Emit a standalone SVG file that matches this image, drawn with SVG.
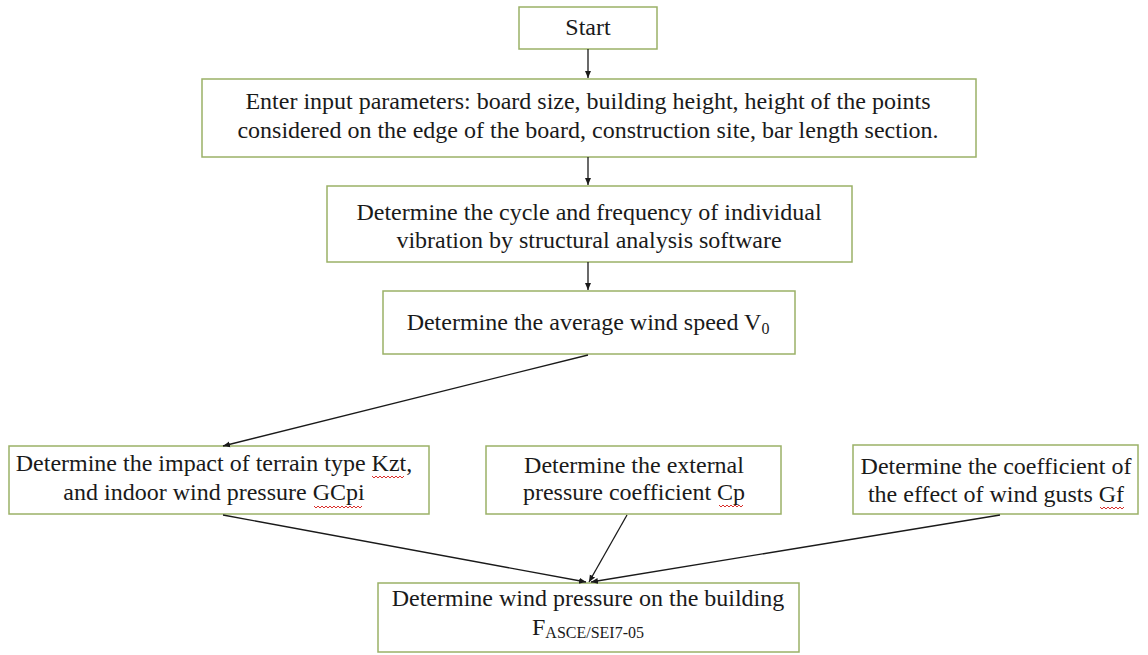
<svg xmlns="http://www.w3.org/2000/svg" width="1148" height="655" viewBox="0 0 1148 655">
<style>
.box{fill:#fff;stroke:#9bb167;stroke-width:1.5}
.t{font-family:"Liberation Serif","Times New Roman",serif;font-size:24px;fill:#1a1a1a;text-anchor:middle}
.c{stroke:#1a1a1a;stroke-width:1.3;fill:none}
.sq{stroke:#d9302c;stroke-width:1;fill:none}
</style>
<defs>
<marker id="ah" markerWidth="8" markerHeight="8" refX="7" refY="4" orient="auto" markerUnits="userSpaceOnUse">
<path d="M0,1 L7,4 L0,7 Z" fill="#1a1a1a"/>
</marker>
</defs>
<rect width="1148" height="655" fill="#fff"/>
<g id="start"><rect class="box" x="519" y="7" width="138" height="42"/><text class="t" x="588" y="35">Start</text></g>
<g id="input"><rect class="box" x="202" y="79" width="774" height="78"/>
<text class="t" x="588" y="109">Enter input parameters: board size, building height, height of the points</text>
<text class="t" x="588" y="138">considered on the edge of the board, construction site, bar length section.</text></g>
<g id="cycle"><rect class="box" x="327" y="186" width="525" height="76"/>
<text class="t" x="589" y="220">Determine the cycle and frequency of individual</text>
<text class="t" x="589" y="248">vibration by structural analysis software</text></g>
<g id="avg"><rect class="box" x="383" y="291" width="412" height="63"/>
<text class="t" x="588" y="330">Determine the average wind speed V<tspan font-size="16" dy="4">0</tspan></text></g>
<g id="terrain"><rect class="box" x="9" y="446" width="420" height="68"/>
<text class="t" x="214" y="471">Determine the impact of terrain type Kzt,</text>
<text class="t" x="214" y="500">and indoor wind pressure GCpi</text>
<path class="sq" d="M372,476 l2,2 l2,-2 l2,2 l2,-2 l2,2 l2,-2 l2,2 l2,-2 l2,2 l2,-2 l2,2 l2,-2 l2,2 l2,-2 l2,2 l2,-2"/>
<path class="sq" d="M314,506 l2,2 l2,-2 l2,2 l2,-2 l2,2 l2,-2 l2,2 l2,-2 l2,2 l2,-2 l2,2 l2,-2 l2,2 l2,-2 l2,2 l2,-2 l2,2 l2,-2 l2,2 l2,-2 l2,2 l2,-2 l2,2 l2,-2"/></g>
<g id="external"><rect class="box" x="486" y="446" width="295" height="68"/>
<text class="t" x="634" y="473">Determine the external</text>
<text class="t" x="634" y="500">pressure coefficient Cp</text>
<path class="sq" d="M719,505 l2,2 l2,-2 l2,2 l2,-2 l2,2 l2,-2 l2,2 l2,-2 l2,2 l2,-2 l2,2 l2,-2"/></g>
<g id="gust"><rect class="box" x="853" y="445" width="285" height="69"/>
<text class="t" x="996" y="474">Determine the coefficient of</text>
<text class="t" x="996" y="502">the effect of wind gusts Gf</text>
<path class="sq" d="M1100,507 l2,2 l2,-2 l2,2 l2,-2 l2,2 l2,-2 l2,2 l2,-2 l2,2 l2,-2 l2,2 l2,-2"/></g>
<g id="result"><rect class="box" x="378" y="583" width="421" height="69"/>
<text class="t" x="588" y="606">Determine wind pressure on the building</text>
<text class="t" x="588" y="635">F<tspan font-size="16" dy="3">ASCE/SEI7-05</tspan></text></g>
<g id="connectors">
<line class="c" x1="588" y1="49" x2="588" y2="78" marker-end="url(#ah)"/>
<line class="c" x1="588" y1="157" x2="588" y2="185" marker-end="url(#ah)"/>
<line class="c" x1="588" y1="262" x2="588" y2="290" marker-end="url(#ah)"/>
<line class="c" x1="588" y1="355" x2="223" y2="446" marker-end="url(#ah)"/>
<line class="c" x1="223" y1="515" x2="586" y2="582" marker-end="url(#ah)"/>
<line class="c" x1="627" y1="515" x2="589" y2="582" marker-end="url(#ah)"/>
<line class="c" x1="1000" y1="515" x2="591" y2="582" marker-end="url(#ah)"/>
</g>
</svg>
